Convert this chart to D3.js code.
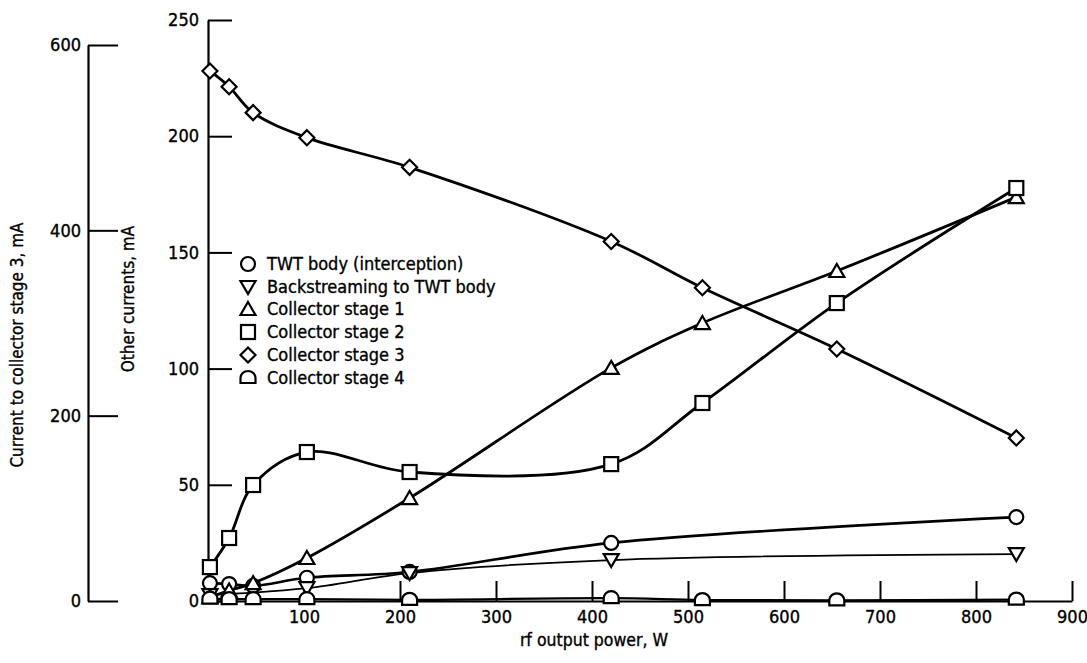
<!DOCTYPE html>
<html><head><meta charset="utf-8">
<script src="https://cdn.jsdelivr.net/npm/d3@7"></script>
<style>
html,body{margin:0;padding:0;background:#fff;}
svg{display:block;}
text{font-family:"DejaVu Sans Condensed","DejaVu Sans",sans-serif;fill:#000;stroke:#000;stroke-width:0.35px;}
</style></head>
<body><svg id="chart" width="1087" height="663"></svg>
<script>
// ---- data ----
const powerAll = [2, 22, 47, 103, 210, 420, 515, 655, 842];
const twtPower = [2, 22, 47, 103, 210, 420, 842];
const twtBody = [7.7, 7.3, 6.5, 10, 12.5, 25, 36.1];
const backPower = [2, 103, 210, 420, 842];
const backstream = [2.5, 5.5, 12, 17.6, 20.2];
const stage1 = [1.7, 4.5, 7.7, 18.5, 44.3, 100.3, 119.6, 142, 173.8];
const stage2 = [14.6, 27.1, 49.9, 64.1, 55.5, 58.9, 85.2, 128.2, 177.7];
const stage3 = [572, 555, 527, 500, 468, 388, 338, 272, 176]; // left (outer) axis
const stage4 = [1, 0.8, 0.8, 0.8, 0.5, 1.2, 0.4, 0.3, 0.6];
const xTicks = [100, 200, 300, 400, 500, 600, 700, 800, 900];
const yInnerTicks = [0, 50, 100, 150, 200, 250];
const yOuterTicks = [0, 200, 400, 600];
const legendLabels = ["TWT body (interception)", "Backstreaming to TWT body", "Collector stage 1",
  "Collector stage 2", "Collector stage 3", "Collector stage 4"];

const svg = d3.select("#chart");
const x = d3.scaleLinear().domain([0, 900]).range([208, 1072]);
const yIn = d3.scaleLinear().domain([0, 250]).range([601, 20]);
const yOut = d3.scaleLinear().domain([0, 600]).range([601, 45]);

function styleAxis(g){
  g.selectAll("path.domain").attr("stroke","#000").attr("stroke-width",2.2);
  g.selectAll(".tick line").attr("stroke","#000").attr("stroke-width",2);
  g.selectAll(".tick text").style("font-size","18px").attr("fill","#000")
    .style("font-family",'"DejaVu Sans Condensed","DejaVu Sans",sans-serif');
}
// x axis
svg.append("g").attr("transform","translate(0,601)")
  .call(d3.axisBottom(x).tickValues(xTicks).tickSizeInner(-20).tickSizeOuter(0).tickPadding(9))
  .call(styleAxis);
// inner y axis
svg.append("g").attr("transform","translate(208,0)")
  .call(d3.axisLeft(yIn).tickValues(yInnerTicks).tickSizeInner(-24).tickSizeOuter(0).tickPadding(9))
  .call(styleAxis);
// outer y axis
svg.append("g").attr("transform","translate(88,0)")
  .call(d3.axisLeft(yOut).tickValues(yOuterTicks).tickSizeInner(-30).tickSizeOuter(0).tickPadding(7))
  .call(styleAxis);

// axis titles
svg.append("text").attr("x",594).attr("y",646).attr("text-anchor","middle")
  .style("font-size","17.5px").text("rf output power,  W");
svg.append("text").attr("transform","translate(23,345) rotate(-90)").attr("text-anchor","middle")
  .style("font-size","17px").text("Current to collector stage 3,  mA");
svg.append("text").attr("transform","translate(134,299) rotate(-90)").attr("text-anchor","middle")
  .style("font-size","17px").text("Other currents,  mA");

// markers
const symbols = {
  circle: g => g.append("circle").attr("r",7),
  down: g => g.append("path").attr("d","M-7.5,-6 L7.5,-6 L0,7 Z"),
  up: g => g.append("path").attr("d","M0,-7 L7.5,6 L-7.5,6 Z"),
  square: g => g.append("rect").attr("x",-7).attr("y",-7).attr("width",14).attr("height",14),
  diamond: g => g.append("path").attr("d","M0,-7.5 L7.5,0 L0,7.5 L-7.5,0 Z"),
  dome: g => g.append("path").attr("d","M-7.5,5 L-7.5,0 A7.5,7 0 0 1 7.5,0 L7.5,5 Z")
};

const series = [
  {px: twtPower, v: twtBody, y: yIn, sym: "circle", w: 2.6},
  {px: backPower, v: backstream, y: yIn, sym: "down", w: 1.7},
  {px: powerAll, v: stage1, y: yIn, sym: "up", w: 2.8},
  {px: powerAll, v: stage2, y: yIn, sym: "square", w: 2.8},
  {px: powerAll, v: stage3, y: yOut, sym: "diamond", w: 2.8},
  {px: powerAll, v: stage4, y: yIn, sym: "dome", w: 2.2}
];

series.forEach(s => {
  const pts = s.px.map((p,i) => [p, s.v[i]]);
  const line = d3.line().x(d => x(d[0])).y(d => s.y(d[1])).curve(d3.curveCatmullRom.alpha(0.5));
  svg.append("path").datum(pts).attr("d", line).attr("fill","none")
    .attr("stroke","#000").attr("stroke-width", s.w);
});
series.forEach(s => {
  const pts = s.px.map((p,i) => [p, s.v[i]]);
  pts.forEach(d => {
    const g = svg.append("g").attr("transform",`translate(${x(d[0])},${s.y(d[1])})`);
    symbols[s.sym](g).attr("fill","#fff").attr("stroke","#000").attr("stroke-width",2.2);
  });
});

// legend
const legY = [264, 287, 309, 332, 355, 378];
const legSyms = ["circle","down","up","square","diamond","dome"];
legendLabels.forEach((t,i) => {
  const g = svg.append("g").attr("transform",`translate(248,${legY[i]})`);
  symbols[legSyms[i]](g).attr("fill","#fff").attr("stroke","#000").attr("stroke-width",2.2);
  svg.append("text").attr("x",267).attr("y",legY[i]).attr("dy","0.35em")
    .style("font-size","18px").text(t);
});
</script></body></html>
